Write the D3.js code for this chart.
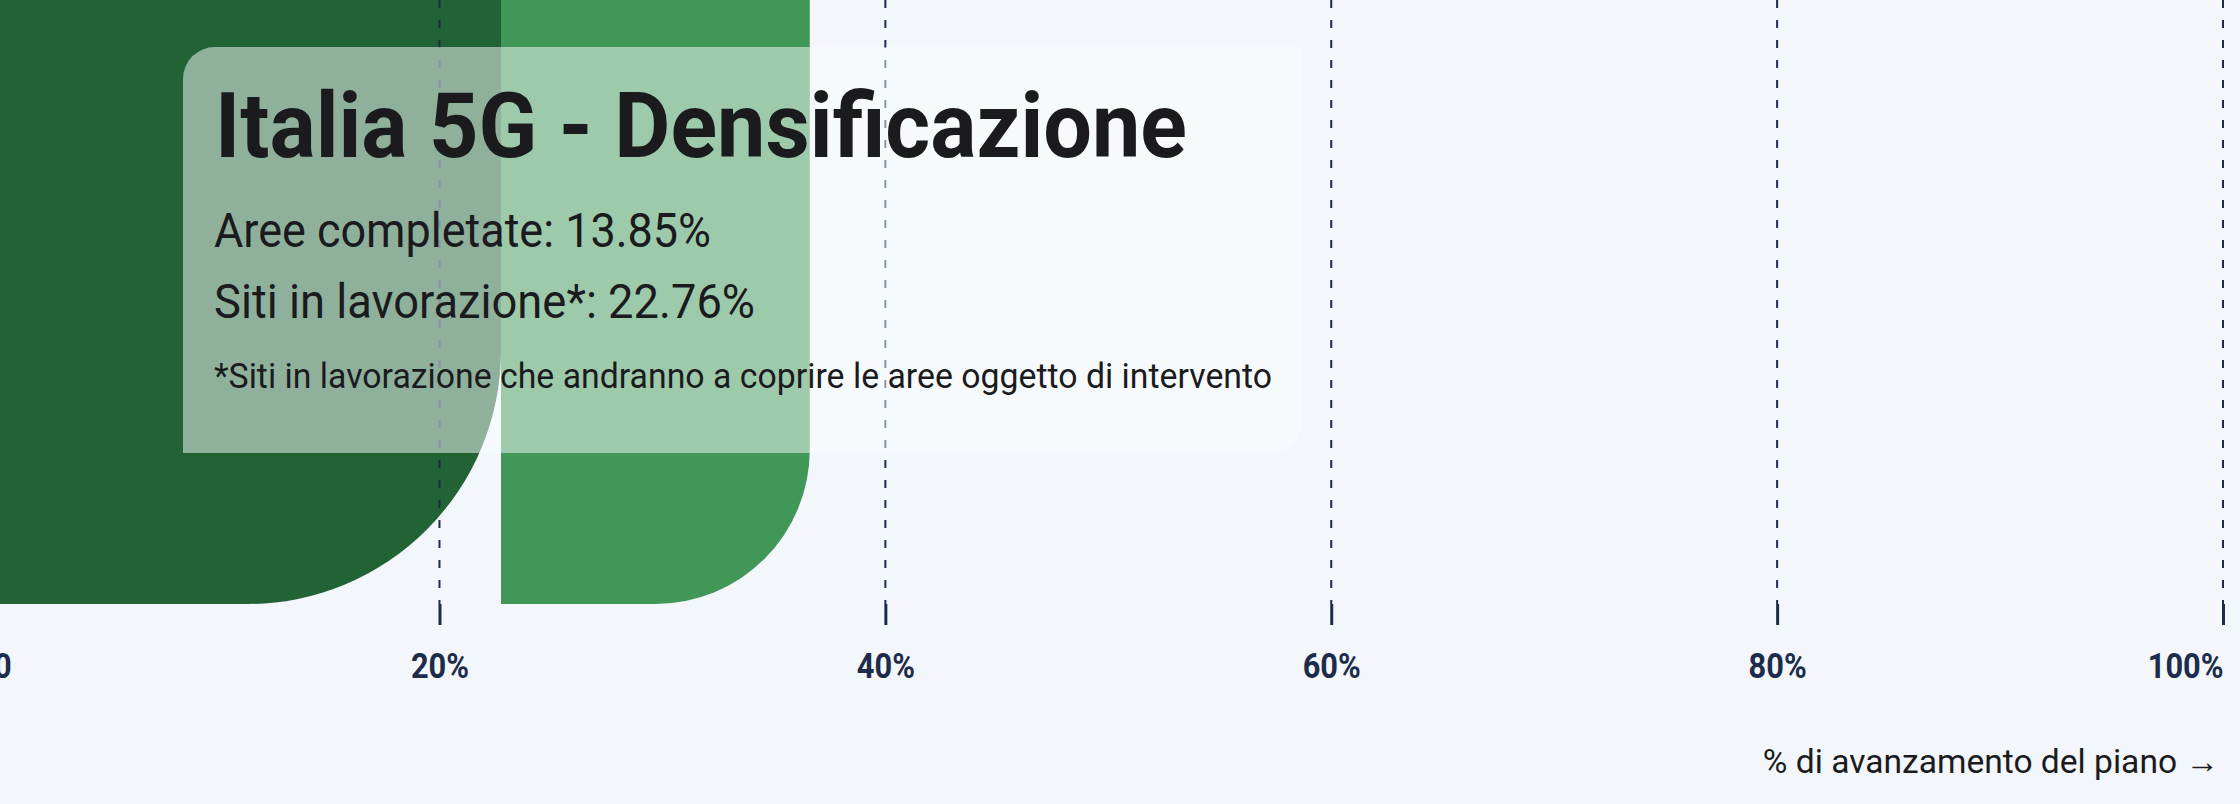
<!DOCTYPE html>
<html>
<head>
<meta charset="utf-8">
<script src="https://cdn.jsdelivr.net/npm/d3@7"></script>
<style>
  html, body { margin: 0; padding: 0; background: #f3f6fb; overflow: hidden; }
  svg { display: block; }
</style>
</head>
<body>
<svg id="chart" width="2240" height="804"></svg>
<script>
// ---- data ----
const categories = ["Italia 5G - Densificazione"];
const seriesNames = ["Siti in lavorazione*", "Aree completate"];
const seriesValues = [22.76, 13.85];
const seriesColors = ["#226336", "#409758"];
const tickValues = [0, 20, 40, 60, 80, 100];
const tickLabels = ["0", "20%", "40%", "60%", "80%", "100%"];
const titleText = "Italia 5G - Densificazione";
const infoLines = ["Aree completate: 13.85%", "Siti in lavorazione*: 22.76%"];
const footnoteText = "*Siti in lavorazione che andranno a coprire le aree oggetto di intervento";
const axisTitle = "% di avanzamento del piano \u2192";

// ---- layout ----
const W = 2240, H = 804;
const svg = d3.select("#chart");
svg.append("rect").attr("width", W).attr("height", H).attr("fill", "#f3f6fb");

const x = d3.scaleLinear().domain([0, 100]).range([-6.4, 2223]);
const y = d3.scaleBand().domain(categories).range([-420, 604]).padding(0);

// stacked segments
const row = {};
seriesNames.forEach((s, i) => row[s] = seriesValues[i]);
const stack = d3.stack().keys(seriesNames)([Object.assign({cat: categories[0]}, row)]);

function roundedRightBar(x0, x1, y0, y1) {
  const w = x1 - x0, h = y1 - y0;
  const r = Math.min(w / 2, h / 2);
  const p = d3.path();
  p.moveTo(x0, y0);
  p.lineTo(x1 - r, y0);
  p.arcTo(x1, y0, x1, y0 + r, r);
  p.lineTo(x1, y1 - r);
  p.arcTo(x1, y1, x1 - r, y1, r);
  p.lineTo(x0, y1);
  p.closePath();
  return p.toString();
}

svg.append("g").selectAll("path")
  .data(stack)
  .join("path")
  .attr("fill", (d, i) => seriesColors[i])
  .attr("d", s => {
    const d = s[0];
    return roundedRightBar(x(d[0]), x(d[1]), y(d.data.cat), y(d.data.cat) + y.bandwidth());
  });

// gridlines
const axisY = 604;
svg.append("g").selectAll("line")
  .data(tickValues)
  .join("line")
  .attr("x1", d => x(d)).attr("x2", d => x(d))
  .attr("y1", 0).attr("y2", axisY)
  .attr("stroke", "#1c2b48")
  .attr("stroke-width", 2)
  .attr("stroke-dasharray", "8,12");

// info box (semi-transparent)
const bx0 = 183, by0 = 47, bx1 = 1302, by1 = 453, br = 32;
const bp = d3.path();
bp.moveTo(bx0 + br, by0);
bp.lineTo(bx1, by0);
bp.lineTo(bx1, by1 - br);
bp.arcTo(bx1, by1, bx1 - br, by1, br);
bp.lineTo(bx0, by1);
bp.lineTo(bx0, by0 + br);
bp.arcTo(bx0, by0, bx0 + br, by0, br);
bp.closePath();
svg.append("path").attr("d", bp.toString())
  .attr("fill", "#fbfdff").attr("fill-opacity", 0.5);

const font = "Roboto, 'Open Sans', 'Noto Sans', sans-serif";
function fitText(sel, targetW) {
  sel.attr("textLength", targetW).attr("lengthAdjust", "spacingAndGlyphs");
}

const tg = svg.append("g").attr("font-family", font);
tg.append("text").text(titleText)
  .attr("x", 215).attr("y", 157)
  .attr("font-size", 91).attr("font-weight", 700).attr("fill", "#1b1b1e")
  .call(fitText, 972);

const infoY = [247, 318];
const infoW = [497, 541];
tg.selectAll("text.info").data(infoLines).join("text").attr("class", "info")
  .text(d => d)
  .attr("x", 214).attr("y", (d, i) => infoY[i])
  .attr("font-size", 48).attr("font-weight", 400).attr("fill", "#1b1b1e")
  .each(function(d, i) { d3.select(this).call(fitText, infoW[i]); });

tg.append("text").text(footnoteText)
  .attr("x", 214).attr("y", 388)
  .attr("font-size", 35).attr("font-weight", 400).attr("fill", "#1b1b1e")
  .call(fitText, 1058);

// axis
const axis = d3.axisBottom(x)
  .tickValues(tickValues)
  .tickFormat((d, i) => tickLabels[i])
  .tickSize(21);
const ag = svg.append("g").attr("transform", `translate(0,${axisY})`).call(axis);
ag.select(".domain").remove();
ag.selectAll(".tick line").attr("stroke", "#1c2b48").attr("stroke-width", 3);
ag.selectAll(".tick text")
  .attr("font-family", font).attr("font-size", 35).attr("font-weight", 700)
  .attr("fill", "#1c2c4a")
  .attr("y", 74).attr("dy", 0)
  .attr("text-anchor", (d, i) => i === 0 ? "start" : (i === tickValues.length - 1 ? "end" : "middle"))
  .each(function() {
    const w = this.getComputedTextLength();
    d3.select(this).call(fitText, w * 0.88);
  });

// axis title
svg.append("text").text(axisTitle)
  .attr("x", 2219).attr("y", 773)
  .attr("text-anchor", "end")
  .attr("font-family", font).attr("font-size", 33.6).attr("font-weight", 400)
  .attr("fill", "#1b1b1e");
</script>
</body>
</html>
